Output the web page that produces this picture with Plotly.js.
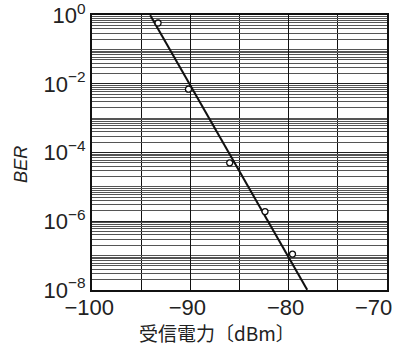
<!DOCTYPE html>
<html>
<head>
<meta charset="utf-8">
<script src="https://cdn.plot.ly/plotly-3.0.1.min.js"></script>
<style>html,body{margin:0;padding:0;background:#fff;}#chart{width:399px;height:346px;}</style>
</head>
<body>
<div id="chart"></div>
<script>
// Measured points (received power dBm, BER)
const powerDbm = [-93.3, -90.2, -86.0, -82.4, -79.6];
const ber = [0.59, 7e-3, 5e-5, 1.9e-6, 1.1e-7];
// Fitted line endpoints
const lineX = [-94.1, -78.1];
const lineY = [1, 1e-8];
// Tick labels
const xTickVals = [-100, -90, -80];
const xTickText = ['−100', '−90', '−80'];
const xEdgeTickVals = [-70];
const xEdgeTickText = ['−70'];
const yTickVals = [1, 1e-2, 1e-4, 1e-6, 1e-8];
const yTickText = ['10<sup>0</sup>', '10<sup>−2</sup>', '10<sup>−4</sup>', '10<sup>−6</sup>', '10<sup>−8</sup>'];
const xTitle = '受信電力〔dBm〕';
const yTitle = 'BER';

const fontFam = '"Liberation Sans", Arial, sans-serif';
const tickFont = {size: 22, family: fontFam, color: '#222'};
const traces = [
  {x: lineX, y: lineY, mode: 'lines', line: {color: '#111', width: 2}, hoverinfo: 'skip', showlegend: false},
  {x: powerDbm, y: ber, mode: 'markers', marker: {symbol: 'circle', size: 6, color: '#fff', line: {color: '#111', width: 1.3}}, showlegend: false}
];
const xRange = [-100.03, -69.97];
const edgeLabels = xEdgeTickVals.map((v, i) => ({
  text: xEdgeTickText[i], xref: 'x', yref: 'paper', x: v, y: 0, xanchor: 'center', yanchor: 'top',
  xshift: -13, yshift: -3, showarrow: false, font: tickFont
}));
const layout = {
  width: 399, height: 346,
  margin: {l: 92, r: 12, t: 15, b: 56},
  paper_bgcolor: '#fff', plot_bgcolor: '#fff',
  showlegend: false,
  font: {family: fontFam, color: '#222'},
  xaxis: {
    range: xRange, tickvals: xTickVals, ticktext: xTickText,
    showgrid: true, gridcolor: '#111', gridwidth: 1.5,
    minor: {dtick: 5, showgrid: true, gridcolor: '#111', gridwidth: 1.5, ticklen: 0},
    ticks: '', tickfont: tickFont, ticklabelstandoff: -3, ticklabelshift: -3, ticklabeloverflow: 'allow',
    showline: true, linecolor: '#111', linewidth: 2, mirror: true, zeroline: false
  },
  yaxis: {
    type: 'log', range: [-8.004, 0.004], tickvals: yTickVals, ticktext: yTickText,
    showgrid: true, gridcolor: '#222', gridwidth: 1.2,
    minor: {dtick: 'D1', showgrid: true, gridcolor: '#555', gridwidth: 1, ticklen: 0},
    ticks: '', tickfont: tickFont, ticklabelstandoff: 0, ticklabeloverflow: 'allow',
    showline: true, linecolor: '#111', linewidth: 2, mirror: true
  },
  annotations: edgeLabels.concat([
    {text: xTitle, xref: 'paper', yref: 'paper', x: 0, y: 0, xanchor: 'left', yanchor: 'top', yshift: -28, xshift: 46,
     borderpad: 0, showarrow: false, font: {size: 19, family: '"Noto Sans CJK JP", sans-serif', color: '#222'}},
    {text: '<i>' + yTitle + '</i>', xref: 'paper', yref: 'paper', x: 0, y: 0.455, xanchor: 'center', yanchor: 'middle', xshift: -71,
     textangle: -90, showarrow: false, font: {size: 18, family: fontFam, color: '#222'}}
  ])
};
Plotly.newPlot('chart', traces, layout, {staticPlot: true, displayModeBar: false});
</script>
</body>
</html>
